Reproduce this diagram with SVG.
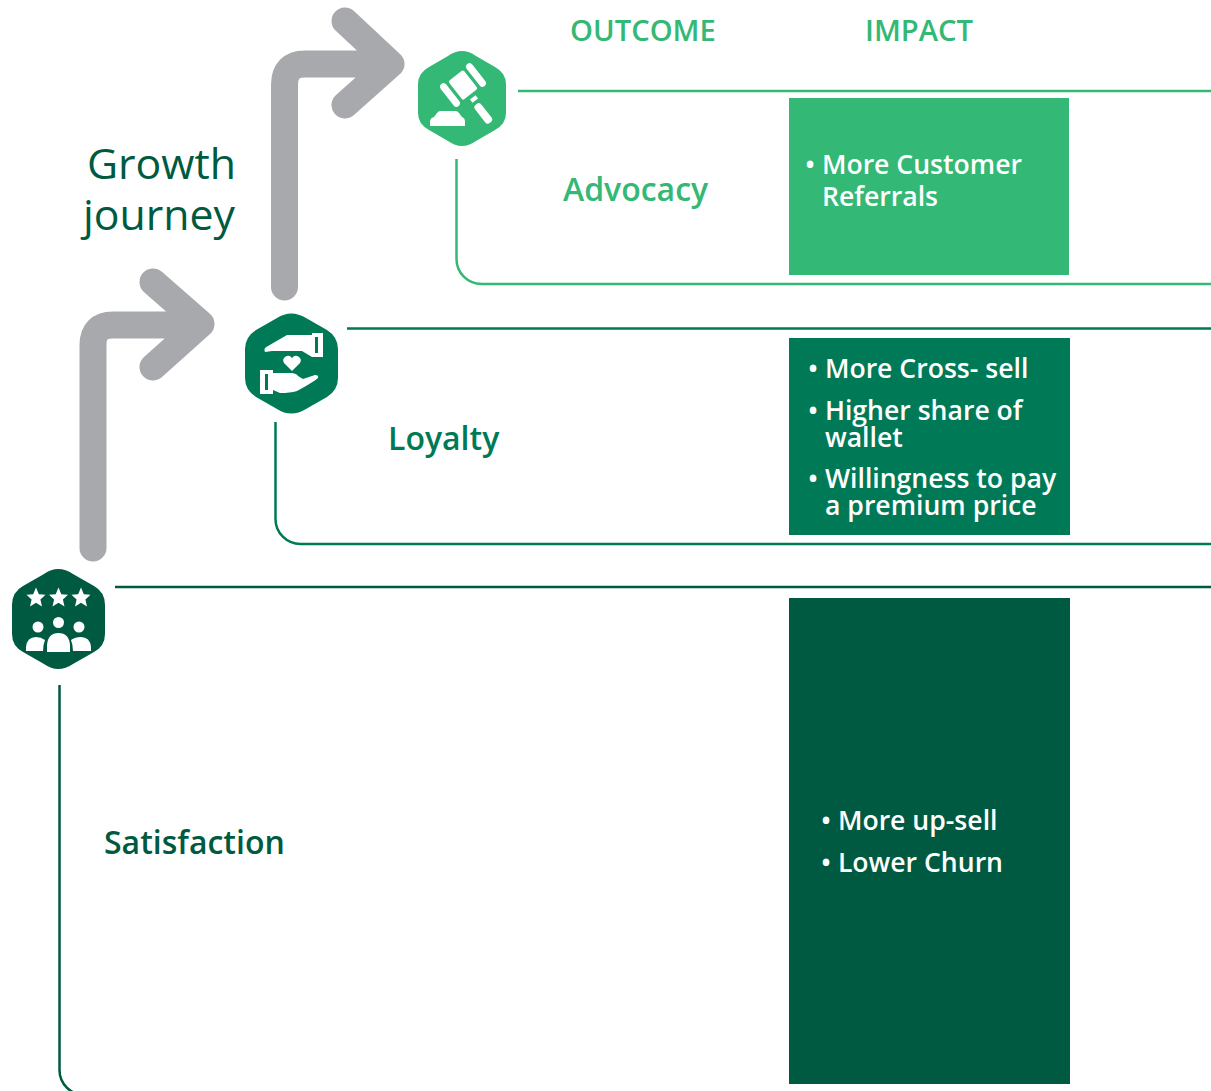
<svg xmlns="http://www.w3.org/2000/svg" width="1211" height="1091" viewBox="0 0 1211 1091">
<style>
text{font-family:"Open Sans","Noto Sans",sans-serif;font-weight:600}
.head{font-size:29.200px;fill:#34b875}
.out{font-size:32px}
.item{font-size:26.6px;fill:#fff}
.title{font-size:42.800px;font-weight:400;fill:#005a41}
.arrow{fill:none;stroke:#a7a9ac;stroke-width:27;stroke-linecap:round;stroke-linejoin:round}
.line{fill:none;stroke-width:2.5}
.w{fill:#fff}
</style>
<rect width="1211" height="1091" fill="#fff"/>
<g id="connectors">
<path class="arrow" d="M93 548V345Q93 325 113 325H198M153 282L201 324L153 367"/>
<path class="arrow" d="M284.500 287V85Q284.500 64 305 64H389M345 21L391 64L345 105"/>
<path class="line" stroke="#34b875" d="M518 91H1211M456.500 159V259A25 25 0 0 0 481.500 284H1211"/>
<path class="line" stroke="#007a56" d="M347 328.500H1211M275.500 422V519A25 25 0 0 0 300.500 544H1211"/>
<path class="line" stroke="#005a41" d="M115 587H1211M59.500 685V1070A25 25 0 0 0 84.500 1095H1211"/>
</g>
<g id="title"><text class="title" x="87" y="179">Growth</text><text class="title" x="83" y="230">journey</text></g>
<g id="headers"><text class="head" x="570" y="41">OUTCOME</text><text class="head" x="865" y="41">IMPACT</text></g>
<g id="advocacy">
<path fill="#34b875" d="M448 56Q462 46 476 56L495 67Q506 73 506 84V113Q506 124 495 130L476 141Q462 151 448 141L429 130Q418 124 418 113V84Q418 73 429 67Z"/>
<g class="w">
<rect x="-9.500" y="-12" width="19" height="24" rx="2" transform="translate(463 85) rotate(-38)"/>
<rect x="-3.500" y="-14" width="7" height="28" rx="3.500" transform="translate(450 95) rotate(-38)"/>
<rect x="-3.500" y="-14" width="7" height="28" rx="3.500" transform="translate(476 75) rotate(-38)"/>
<rect x="-3.500" y="-2" width="7" height="4" transform="translate(474 99) rotate(-38)"/>
<rect x="-4" y="-11" width="8" height="23" rx="3.500" transform="translate(483 113) rotate(-38)"/>
<path d="M430 126V122Q430 118 434 117L437 113Q438 111 441 111H455Q458 111 459 113L462 117Q465 118 465 122V126Z"/>
</g>
<text class="out" x="563" y="201" fill="#34b875">Advocacy</text>
<rect x="789" y="98" width="280" height="177" fill="#34b875"/>
<text class="item" x="805" y="174">• More Customer</text>
<text class="item" x="822" y="206">Referrals</text>
</g>
<g id="loyalty">
<path fill="#007a56" d="M277 318Q291 309 306 318L327 330Q338 337 338 349V378Q338 390 327 397L306 409Q291 418 277 409L256 397Q245 390 245 378V349Q245 337 256 330Z"/>
<path class="w" fill-rule="evenodd" d="M265 352Q263 348 268 346L287 335H312V333H323V357H312L302 351H272ZM315 337V353H318V337Z"/>
<path class="w" fill-rule="evenodd" d="M260 370H273V373H292Q297 374 298 376L303 379L315 375Q319 375 318 378Q315 381 297 391Q290 393 280 393L273 390V394H260ZM265 374V390H268V374Z"/>
<path class="w" d="M292 371L284 363Q282 359 285 357Q289 354 292 358Q295 354 299 357Q302 359 300 363Z"/>
<text class="out" x="388" y="450" fill="#007a56">Loyalty</text>
<rect x="789" y="338" width="281" height="197" fill="#007a56"/>
<text class="item" x="808" y="378">• More Cross- sell</text>
<text class="item" x="808" y="420">• Higher share of</text>
<text class="item" x="825" y="447">wallet</text>
<text class="item" x="808" y="488">• Willingness to pay</text>
<text class="item" x="825" y="515">a premium price</text>
</g>
<g id="satisfaction">
<path fill="#005a41" d="M44 574Q58 564 73 574L94 586Q105 592 105 605V634Q105 646 94 652L73 664Q58 674 44 664L23 652Q12 646 12 634V605Q12 592 23 586Z"/>
<g class="w">
<path d="M36 587.500L38.800 594.300L45.500 594.800L40.400 599.500L42 606.500L36 602.800L30 606.500L31.600 599.500L26.500 594.800L33.200 594.300Z"/>
<path d="M58.500 587.500L61.300 594.300L68 594.800L62.900 599.500L64.500 606.500L58.500 602.800L52.500 606.500L54.100 599.500L49 594.800L55.700 594.300Z"/>
<path d="M81 587.500L83.800 594.300L90.500 594.800L85.400 599.500L87 606.500L81 602.800L75 606.500L76.600 599.500L71.500 594.800L78.200 594.300Z"/>
<circle cx="38" cy="627" r="5.500"/><circle cx="58.500" cy="622.500" r="5.500"/><circle cx="79" cy="627" r="5.500"/>
<path d="M26 651V647Q27 637 36 637Q41 637 45 640Q43 645 43 651Z"/>
<path d="M47 652V645Q48 633 58.500 633Q69 633 70 645V652Z"/>
<path d="M73 651Q73 645 71 640Q75 637 81 637Q90 637 91 647V651Z"/>
</g>
<text class="out" x="104" y="854" fill="#005a41">Satisfaction</text>
<rect x="789" y="598" width="281" height="486" fill="#005a41"/>
<text class="item" x="821" y="830">• More up-sell</text>
<text class="item" x="821" y="872">• Lower Churn</text>
</g>
</svg>
